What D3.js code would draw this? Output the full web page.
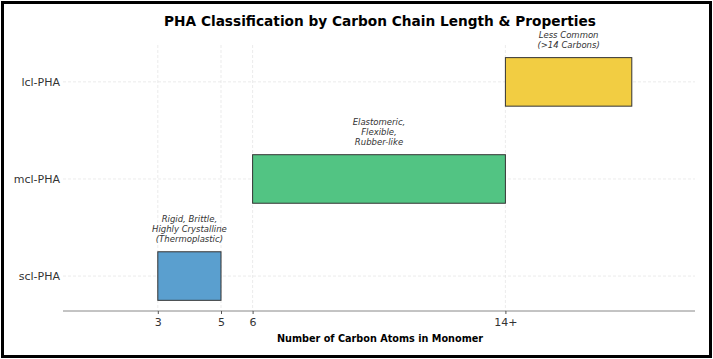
<!DOCTYPE html>
<html>
<head>
<meta charset="UTF-8">
<script src="https://cdn.jsdelivr.net/npm/d3@7"></script>
<style>
  body { margin: 0; background: #fff; }
  svg { display: block; font-family: "DejaVu Sans", sans-serif; }
</style>
</head>
<body>
<svg id="chart" width="713" height="359"></svg>
<script>
// chart data
const classes = ["scl-PHA", "mcl-PHA", "lcl-PHA"];
const startCarbons = [3, 6, 14];
const endCarbons = [5, 14, 18];
const notes = [
  ["Rigid, Brittle,", "Highly Crystalline", "(Thermoplastic)"],
  ["Elastomeric,", "Flexible,", "Rubber-like"],
  ["Less Common", "(>14 Carbons)"]
];
const colors = ["#5a9fcf", "#52c483", "#f2cd42"];
const tickValues = [3, 5, 6, 14];
const tickLabels = ["3", "5", "6", "14+"];

const W = 713, H = 359;
const svg = d3.select("#chart");

// outer frame
svg.append("rect")
  .attr("x", 2.5).attr("y", 2.5)
  .attr("width", W - 5).attr("height", H - 5)
  .attr("fill", "#fff").attr("stroke", "#000").attr("stroke-width", 3);

const plotL = 63, plotR = 695, plotT = 45, plotB = 311;

const x = d3.scaleLinear().domain([0, 20]).range([plotL, plotR]);
const y = d3.scaleLinear().domain([-0.36, 2.38]).range([plotB, plotT]);
const barH = y(0) - y(0.5);

// grid
const grid = svg.append("g").attr("stroke", "#ddd").attr("stroke-dasharray", "3,2").attr("stroke-width", 0.6);
grid.selectAll("line.v").data(tickValues).join("line")
  .attr("x1", d => x(d)).attr("x2", d => x(d))
  .attr("y1", plotT).attr("y2", plotB);
grid.selectAll("line.h").data(classes).join("line")
  .attr("x1", plotL).attr("x2", plotR)
  .attr("y1", (d, i) => y(i)).attr("y2", (d, i) => y(i));

// bars
svg.append("g").selectAll("rect").data(classes).join("rect")
  .attr("x", (d, i) => x(startCarbons[i]))
  .attr("y", (d, i) => y(i) - barH / 2)
  .attr("width", (d, i) => x(endCarbons[i]) - x(startCarbons[i]))
  .attr("height", barH)
  .attr("fill", (d, i) => colors[i])
  .attr("stroke", "#333").attr("stroke-width", 1);

// annotations
svg.append("g").selectAll("text").data(classes).join("text")
  .attr("text-anchor", "middle")
  .attr("font-size", 8.5).attr("font-style", "italic").attr("fill", "#333")
  .each(function(d, i) {
    const lines = notes[i];
    const cx = x((startCarbons[i] + endCarbons[i]) / 2);
    const baseY = y(i) - barH / 2 - 10;
    d3.select(this).selectAll("tspan").data(lines).join("tspan")
      .attr("x", cx)
      .attr("y", (l, j) => baseY - (lines.length - 1 - j) * 10)
      .text(l => l);
  });

// x axis
const xAxis = svg.append("g").attr("transform", `translate(0,${plotB})`)
  .call(d3.axisBottom(x).tickValues(tickValues).tickFormat((d, i) => tickLabels[i]).tickSize(3).tickPadding(4));
xAxis.select(".domain").attr("d", `M${plotL},0H${plotR}`).attr("stroke", "#888");
xAxis.selectAll(".tick line").attr("stroke", "#555");
xAxis.selectAll(".tick text").attr("font-size", 11).attr("fill", "#333").attr("font-family", "DejaVu Sans");

// y labels
svg.append("g").selectAll("text").data(classes).join("text")
  .attr("x", plotL - 3).attr("y", (d, i) => y(i))
  .attr("dy", "0.35em").attr("text-anchor", "end")
  .attr("font-size", 11).attr("fill", "#333")
  .text(d => d);

// titles
svg.append("text").attr("x", 380).attr("y", 26).attr("text-anchor", "middle")
  .attr("font-size", 13.7).attr("font-weight", "bold").text("PHA Classification by Carbon Chain Length & Properties");
svg.append("text").attr("x", 380).attr("y", 342).attr("text-anchor", "middle")
  .attr("font-size", 9.7).attr("font-weight", "bold").text("Number of Carbon Atoms in Monomer");
</script>
</body>
</html>
